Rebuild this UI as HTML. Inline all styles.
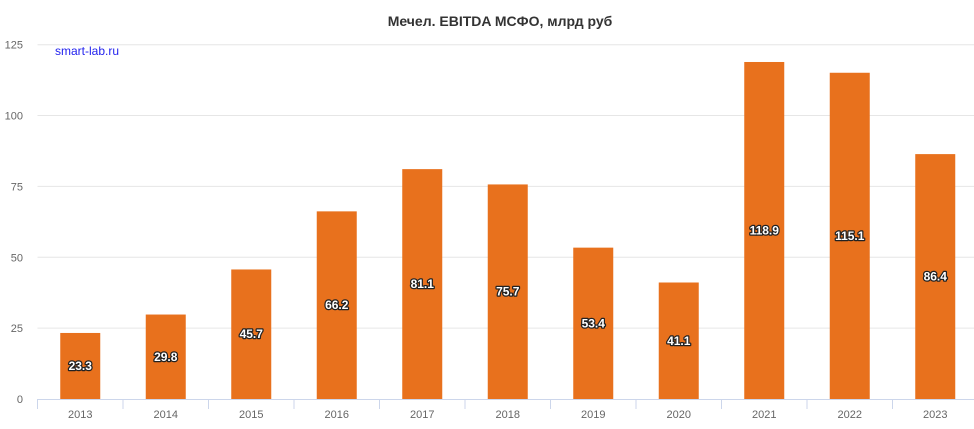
<!DOCTYPE html>
<html><head><meta charset="utf-8"><style>
body{margin:0;background:#fff;}
svg text{font-family:"Liberation Sans","DejaVu Sans",sans-serif;}
</style></head><body>
<svg id="chart" width="974" height="424" xmlns="http://www.w3.org/2000/svg">
<text x="500" y="26" text-anchor="middle" font-size="14" font-weight="bold" fill="#333">Мечел. EBITDA МСФО, млрд руб</text>
<text x="55" y="55" font-size="12" fill="#2222ee">smart-lab.ru</text>
<g id="grid"></g><g id="bars"></g><g id="axis"></g>
</svg>
<script>
const categories=["2013","2014","2015","2016","2017","2018","2019","2020","2021","2022","2023"];
const values=[23.3,29.8,45.7,66.2,81.1,75.7,53.4,41.1,118.9,115.1,86.4];
const yTicks=[0,25,50,75,100,125];
const NS="http://www.w3.org/2000/svg";
const x0=37.5,band=85.5,y0=399,yTop=44.7,yMax=125;
const x1=x0+band*categories.length;
function y(v){return y0-(v/yMax)*(y0-yTop);}
function xc(i){return x0+band*(i+0.5);}
function mk(tag,attrs,parent,text){const e=document.createElementNS(NS,tag);for(const k in attrs)e.setAttribute(k,attrs[k]);if(text!==undefined)e.textContent=text;document.getElementById(parent).appendChild(e);return e;}
yTicks.forEach(t=>{
  if(t>0){const l=mk('line',{x1:x0,x2:974,y1:y(t),y2:y(t),stroke:'#e6e6e6','stroke-width':1},'grid');
  
  }
  const tx=mk('text',{x:23,y:y(t)+4,'text-anchor':'end','font-size':11,fill:'#666'},'grid',String(t));
  
  
});
values.forEach((v,i)=>{
  const r=mk('rect',{x:xc(i)-20,y:y(v),width:40,height:y0-y(v),fill:'#e8711d'},'bars');
  
  
  const t=mk('text',{x:xc(i),y:(y(v)+y0)/2+4,'text-anchor':'middle','font-size':12,'font-weight':'bold',fill:'#fff',stroke:'#222','stroke-width':2.5,'paint-order':'stroke','stroke-linejoin':'round'},'bars',v.toFixed(1));
  
  
  const xl=mk('text',{x:xc(i),y:418,'text-anchor':'middle','font-size':11,fill:'#666'},'axis',categories[i]);
  
  
});
const base=mk('line',{x1:x0,x2:x1,y1:y0+0.5,y2:y0+0.5,stroke:'#ccd6eb'},'axis');


for(let i=0;i<=categories.length;i++){
  const tk=mk('line',{x1:x0+band*i,x2:x0+band*i,y1:y0,y2:y0+10,stroke:'#ccd6eb'},'axis');
  
  
}
</script>
</body></html>
